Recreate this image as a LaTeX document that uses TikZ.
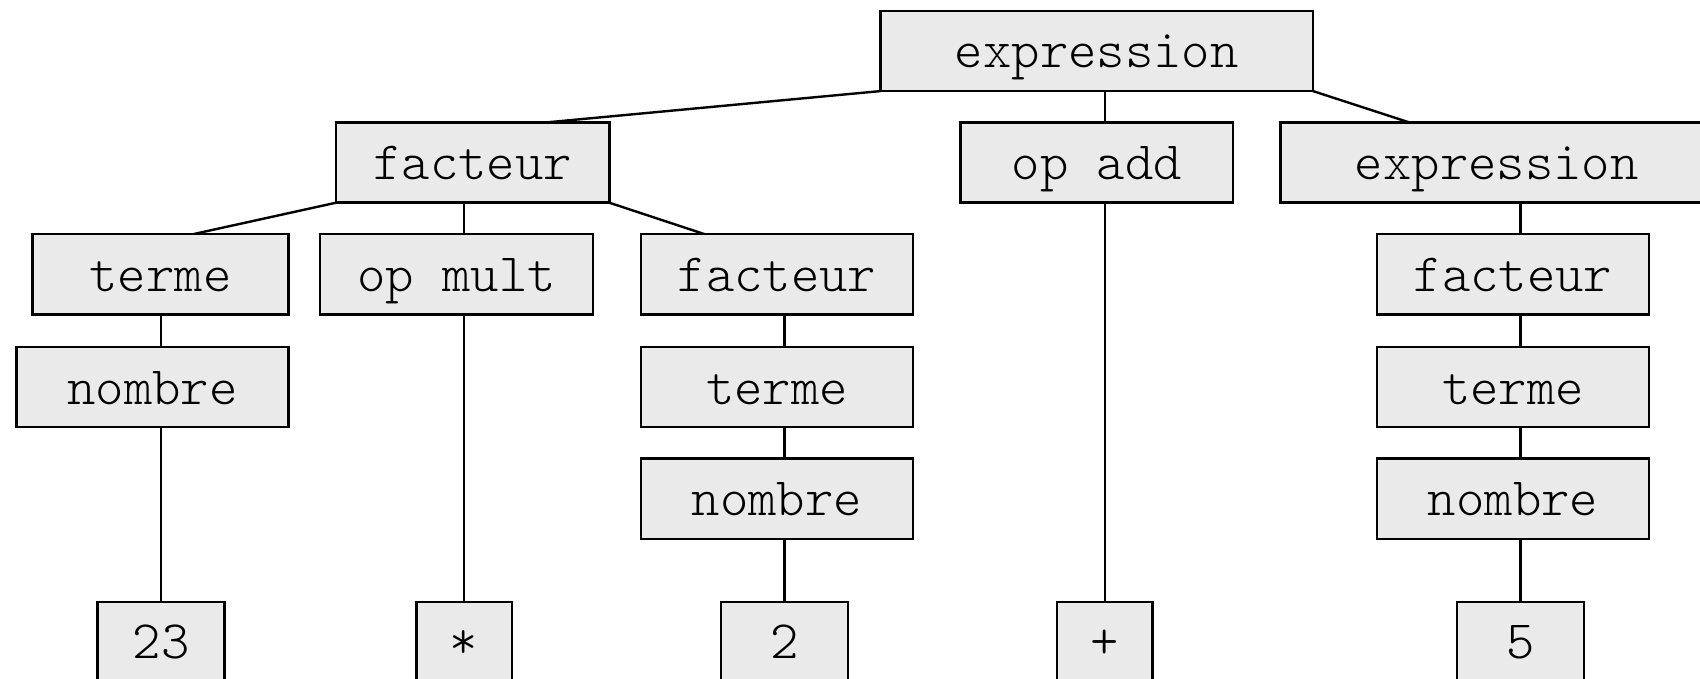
\documentclass[tikz,border=0pt]{standalone}
\usepackage{fontspec}
\usetikzlibrary{backgrounds}
\newfontfamily\treefont{lmmonolt10-regular.otf}
\definecolor{boxgray}{HTML}{EAEAEA}
\tikzset{
  treebox/.style={draw, fill=boxgray, line width=2.4pt, inner sep=0pt, outer sep=0pt,
    minimum height=80.2pt, text height=34pt, text depth=0pt,
    font=\treefont\fontsize{54}{60}\selectfont},
  edge/.style={line width=2.4pt},
  stem/.style={line width=2.2pt},
}
\begin{document}
\begin{tikzpicture}[x=1pt,y=-1pt]
\useasboundingbox (0,0) rectangle (1700,679);
\clip (0,0) rectangle (1700,679);

% level 1
\node[treebox, minimum width=432.6pt] (expr1) at (1096.7,51) {expression};
% level 2
\node[treebox, minimum width=273.2pt] (fac1) at (472.7,162.6) {facteur};
\node[treebox, minimum width=272.1pt] (opadd) at (1096.7,162.6) {op add};
\node[treebox, minimum width=432.6pt] (expr2) at (1496.7,162.6) {expression};
% level 3
\node[treebox, minimum width=255.9pt] (terme1) at (160.5,274.3) {terme};
\node[treebox, minimum width=273.3pt] (opmult) at (456.5,274.3) {op mult};
\node[treebox, minimum width=272.1pt] (fac2) at (776.9,274.3) {facteur};
\node[treebox, minimum width=272.2pt] (fac3) at (1513,274.3) {facteur};
% level 4
\node[treebox, minimum width=272.1pt] (nombre1) at (152.4,387) {nombre};
\node[treebox, minimum width=272.1pt] (terme2) at (776.9,387) {terme};
\node[treebox, minimum width=272.2pt] (terme3) at (1513,387) {terme};
% level 5
\node[treebox, minimum width=272.1pt] (nombre2) at (776.9,498.7) {nombre};
\node[treebox, minimum width=272.2pt] (nombre3) at (1513,498.7) {nombre};
% leaves
\node[treebox, minimum width=126.8pt] (n23) at (161,641.8) {23};
\node[treebox, minimum width=95.4pt] (star) at (464,641.8) {*};
\node[treebox, minimum width=126.8pt] (two) at (784.4,641.8) {2};
\node[treebox, minimum width=95.4pt] (plus) at (1104.8,641.8) {+};
\node[treebox, minimum width=127pt] (five) at (1520.5,641.8) {5};

\begin{scope}[on background layer]
  % expression -> facteur, op add, expression
  \draw[edge] (expr1.south west) -- ([xshift=72.7pt]fac1.north);
  \draw[edge] (expr1.south east) -- ([xshift=-87.2pt]expr2.north);
  \draw[stem] (expr1.south -| plus.north) -- (opadd.north -| plus.north);
  \draw[stem] (opadd.south -| plus.north) -- (plus.north);
  % facteur -> terme, op mult, facteur
  \draw[edge] (fac1.south west) -- ([xshift=32.5pt]terme1.north);
  \draw[edge] (fac1.south east) -- ([xshift=-72.2pt]fac2.north);
  \draw[stem] (fac1.south -| star.north) -- (opmult.north -| star.north);
  \draw[stem] (opmult.south -| star.north) -- (star.north);
  % terme -> nombre -> 23
  \draw[stem] (terme1.south -| n23.north) -- (nombre1.north -| n23.north);
  \draw[stem] (nombre1.south -| n23.north) -- (n23.north);
  % facteur -> terme -> nombre -> 2
  \draw[stem] (fac2.south -| two.north) -- (terme2.north -| two.north);
  \draw[stem] (terme2.south -| two.north) -- (nombre2.north -| two.north);
  \draw[stem] (nombre2.south -| two.north) -- (two.north);
  % expression -> facteur -> terme -> nombre -> 5
  \draw[stem] (expr2.south -| five.north) -- (fac3.north -| five.north);
  \draw[stem] (fac3.south -| five.north) -- (terme3.north -| five.north);
  \draw[stem] (terme3.south -| five.north) -- (nombre3.north -| five.north);
  \draw[stem] (nombre3.south -| five.north) -- (five.north);
\end{scope}
\end{tikzpicture}
\end{document}
